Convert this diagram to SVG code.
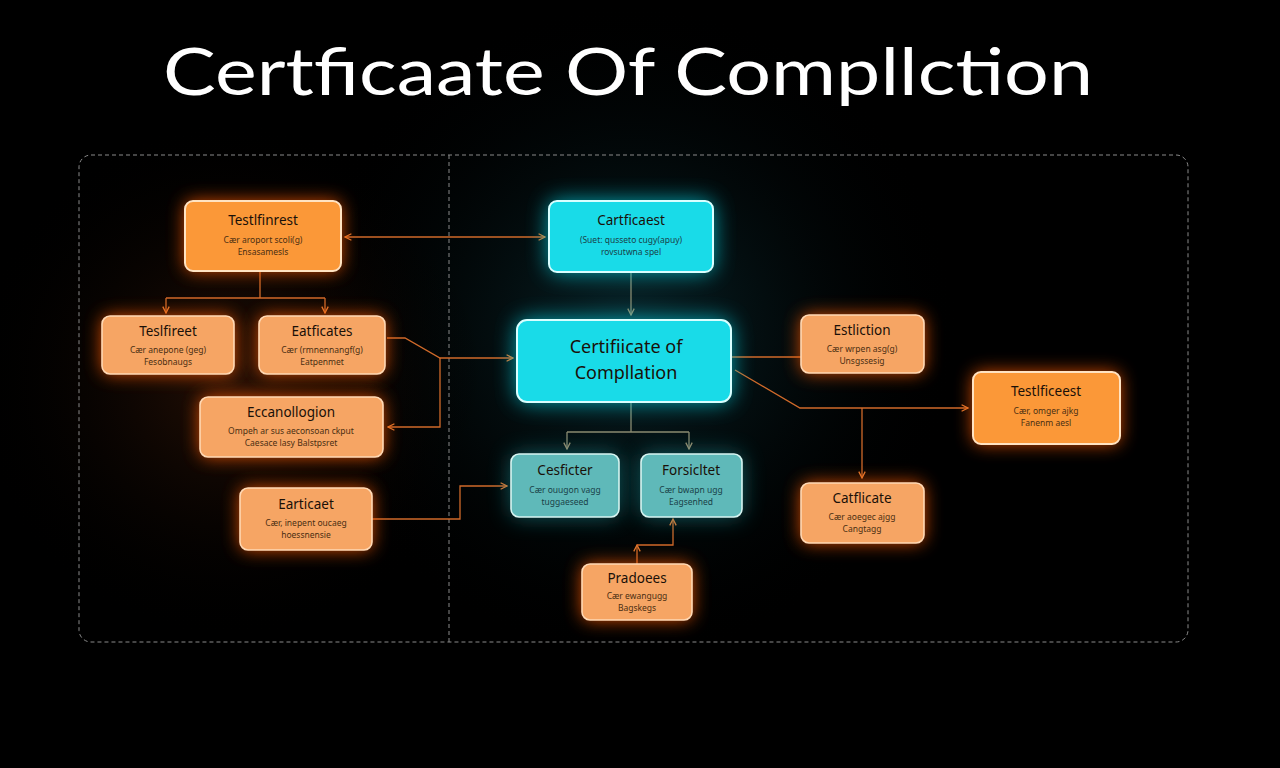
<svg xmlns="http://www.w3.org/2000/svg" width="1280" height="768" viewBox="0 0 1280 768">
<defs>
<radialGradient id="bgc" cx="630" cy="330" r="330" gradientUnits="userSpaceOnUse">
<stop offset="0" stop-color="#0a2a30" stop-opacity="0.9"/>
<stop offset="1" stop-color="#000" stop-opacity="0"/>
</radialGradient>
<radialGradient id="bgo" cx="230" cy="380" r="260" gradientUnits="userSpaceOnUse">
<stop offset="0" stop-color="#2a1206" stop-opacity="0.9"/>
<stop offset="1" stop-color="#000" stop-opacity="0"/>
</radialGradient>
<filter id="glowO" x="-50%" y="-80%" width="200%" height="260%">
<feGaussianBlur stdDeviation="9"/>
</filter>
<filter id="glowC" x="-50%" y="-80%" width="200%" height="260%">
<feGaussianBlur stdDeviation="11"/>
</filter>
<marker id="ah" viewBox="0 0 10 10" refX="9" refY="5" markerWidth="8" markerHeight="8" orient="auto-start-reverse" markerUnits="userSpaceOnUse">
<path d="M1,1 L9,5 L1,9" fill="none" stroke="#e0772e" stroke-width="1.6"/>
</marker>
<marker id="ahg" viewBox="0 0 10 10" refX="9" refY="5" markerWidth="8" markerHeight="8" orient="auto-start-reverse" markerUnits="userSpaceOnUse">
<path d="M1,1 L9,5 L1,9" fill="none" stroke="#9a8a6a" stroke-width="1.6"/>
</marker>
<style>
.t{font-family:"Noto Sans","Liberation Sans",sans-serif;fill:#1a1008;text-anchor:middle}
.h{font-size:13.5px}
.s{font-size:8.5px;fill:#4a2e12}
.sc{font-size:8.5px;fill:#1a4248}
.ob{fill:#fb9838;stroke:#ffe3c2;stroke-width:2}
.om{fill:#f6a564;stroke:#ffd9b5;stroke-width:1.6}
.cy{fill:#19dbe8;stroke:#d8ffff;stroke-width:2}
.tl{fill:#5fb9b9;stroke:#d8f5f2;stroke-width:1.6}
.go{fill:#ff5a00;opacity:.85}
.gc{fill:#00d0e0;opacity:.8}
.gt{fill:#1aa0a8;opacity:.55}
.ln{fill:none;stroke:#d06a2a;stroke-width:1.3}
.lg{fill:none;stroke:#8a8a70;stroke-width:1.3}
</style>
</defs>
<rect width="1280" height="768" fill="#000"/>
<rect width="1280" height="768" fill="url(#bgc)"/>
<rect width="1280" height="768" fill="url(#bgo)"/>

<text x="163" y="95" font-family="Lato,'Noto Sans',sans-serif" font-size="66" fill="#fff" textLength="930" lengthAdjust="spacingAndGlyphs">Certficaate Of Compllction</text>

<g id="frame" fill="none" stroke="#8a8a8a" stroke-width="1" stroke-dasharray="4,3">
<rect x="79" y="155" width="1109" height="487" rx="12"/>
<line x1="449" y1="155" x2="449" y2="642"/>
</g>

<g id="connectors">
<line class="ln" x1="345" y1="237" x2="545" y2="237" marker-start="url(#ah)" marker-end="url(#ah)"/>
<line class="lg" x1="631" y1="272" x2="631" y2="315" marker-end="url(#ahg)"/>
<path class="ln" d="M260,271 V298 M166,298 H325" />
<path class="ln" d="M166,298 V313" marker-end="url(#ah)"/>
<path class="ln" d="M325,298 V313" marker-end="url(#ah)"/>
<path class="ln" d="M387,338 H405 L440,358 H513" marker-end="url(#ah)"/>
<path class="ln" d="M440,358 V427 H388" marker-end="url(#ah)"/>
<path class="ln" d="M372,519 H460 V486 H507" marker-end="url(#ah)"/>
<path class="lg" d="M631,402 V432 M567,432 H689" />
<path class="lg" d="M567,432 V449" marker-end="url(#ahg)"/>
<path class="lg" d="M689,432 V449" marker-end="url(#ahg)"/>
<path class="ln" d="M637,564 V545" marker-end="url(#ah)"/>
<path class="ln" d="M637,545 H673 V519" marker-end="url(#ah)"/>
<line class="ln" x1="731" y1="357" x2="801" y2="357"/>
<path class="ln" d="M735,370 L800,408 H968" marker-end="url(#ah)"/>
<path class="ln" d="M862,408 V478" marker-end="url(#ah)"/>
</g>

<g id="n1">
<rect class="go" x="185" y="201" width="156" height="70" rx="8" filter="url(#glowO)"/>
<rect class="ob" x="185" y="201" width="156" height="70" rx="8"/>
<text class="t h" x="263" y="225">Testlfinrest</text>
<text class="t s" x="263" y="243">Cær aroport scoli(g)</text>
<text class="t s" x="263" y="255">Ensasamesls</text>
</g>
<g id="n2">
<rect class="gc" x="549" y="201" width="164" height="71" rx="8" filter="url(#glowC)"/>
<rect class="cy" x="549" y="201" width="164" height="71" rx="8"/>
<text class="t h" x="631" y="225">Cartficaest</text>
<text class="t sc" x="631" y="243">(Suet: qusseto cugy(apuy)</text>
<text class="t sc" x="631" y="255">rovsutwna spel</text>
</g>
<g id="n3">
<rect class="go" x="102" y="316" width="132" height="58" rx="8" filter="url(#glowO)" opacity=".6"/>
<rect class="om" x="102" y="316" width="132" height="58" rx="8"/>
<text class="t h" x="168" y="336">Teslfireet</text>
<text class="t s" x="168" y="353">Cær anepone (geg)</text>
<text class="t s" x="168" y="365">Fesobnaugs</text>
</g>
<g id="n4">
<rect class="go" x="259" y="316" width="126" height="58" rx="8" filter="url(#glowO)" opacity=".6"/>
<rect class="om" x="259" y="316" width="126" height="58" rx="8"/>
<text class="t h" x="322" y="336">Eatficates</text>
<text class="t s" x="322" y="353">Cær (rmnennangf(g)</text>
<text class="t s" x="322" y="365">Eatpenmet</text>
</g>
<g id="n5">
<rect class="go" x="200" y="397" width="183" height="60" rx="8" filter="url(#glowO)" opacity=".6"/>
<rect class="om" x="200" y="397" width="183" height="60" rx="8"/>
<text class="t h" x="291" y="417">Eccanollogion</text>
<text class="t s" x="291" y="434">Ompeh ar sus aeconsoan ckput</text>
<text class="t s" x="291" y="446">Caesace lasy Balstpsret</text>
</g>
<g id="n6">
<rect class="go" x="240" y="488" width="132" height="62" rx="8" filter="url(#glowO)" opacity=".7"/>
<rect class="om" x="240" y="488" width="132" height="62" rx="8"/>
<text class="t h" x="306" y="509">Earticaet</text>
<text class="t s" x="306" y="526">Cær, inepent oucaeg</text>
<text class="t s" x="306" y="538">hoessnensie</text>
</g>
<g id="n7">
<rect class="gc" x="517" y="320" width="214" height="82" rx="10" filter="url(#glowC)"/>
<rect class="cy" x="517" y="320" width="214" height="82" rx="10"/>
<text class="t" x="626" y="353" font-size="18">Certifiicate of</text>
<text class="t" x="626" y="379" font-size="18">Compllation</text>
</g>
<g id="n8">
<rect class="gt" x="511" y="454" width="108" height="63" rx="8" filter="url(#glowC)"/>
<rect class="tl" x="511" y="454" width="108" height="63" rx="8"/>
<text class="t h" x="565" y="475">Cesficter</text>
<text class="t sc" x="565" y="493">Cær ouugon vagg</text>
<text class="t sc" x="565" y="505">tuggaeseed</text>
</g>
<g id="n9">
<rect class="gt" x="641" y="454" width="101" height="63" rx="8" filter="url(#glowC)"/>
<rect class="tl" x="641" y="454" width="101" height="63" rx="8"/>
<text class="t h" x="691" y="475">Forsicltet</text>
<text class="t sc" x="691" y="493">Cær bwapn ugg</text>
<text class="t sc" x="691" y="505">Eagsenhed</text>
</g>
<g id="n10">
<rect class="go" x="582" y="564" width="110" height="56" rx="8" filter="url(#glowO)" opacity=".7"/>
<rect class="om" x="582" y="564" width="110" height="56" rx="8"/>
<text class="t h" x="637" y="583">Pradoees</text>
<text class="t s" x="637" y="599">Cær ewangugg</text>
<text class="t s" x="637" y="611">Bagskegs</text>
</g>
<g id="n11">
<rect class="go" x="801" y="315" width="123" height="58" rx="8" filter="url(#glowO)" opacity=".7"/>
<rect class="om" x="801" y="315" width="123" height="58" rx="8"/>
<text class="t h" x="862" y="335">Estliction</text>
<text class="t s" x="862" y="352">Cær wrpen asg(g)</text>
<text class="t s" x="862" y="364">Unsgssesig</text>
</g>
<g id="n12">
<rect class="go" x="973" y="372" width="147" height="72" rx="8" filter="url(#glowO)"/>
<rect class="ob" x="973" y="372" width="147" height="72" rx="8"/>
<text class="t h" x="1046" y="396">Testlficeest</text>
<text class="t s" x="1046" y="414">Cær, omger ajkg</text>
<text class="t s" x="1046" y="426">Fanenm aesl</text>
</g>
<g id="n13">
<rect class="go" x="801" y="483" width="123" height="60" rx="8" filter="url(#glowO)" opacity=".7"/>
<rect class="om" x="801" y="483" width="123" height="60" rx="8"/>
<text class="t h" x="862" y="503">Catflicate</text>
<text class="t s" x="862" y="520">Cær aoegec ajgg</text>
<text class="t s" x="862" y="532">Cangtagg</text>
</g>
</svg>
